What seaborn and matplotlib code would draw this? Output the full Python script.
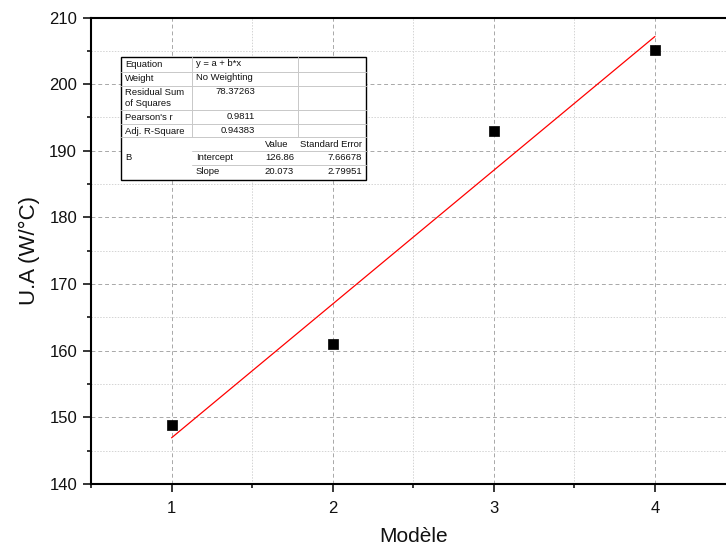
import matplotlib
matplotlib.use("Agg")
import matplotlib.pyplot as plt
from matplotlib.patches import Rectangle
from matplotlib.lines import Line2D
from matplotlib.ticker import MultipleLocator
import seaborn as sns
import pandas as pd
import numpy as np

# Measured data
models = [1, 2, 3, 4]
ua_values = [148.8, 161.0, 192.9, 205.1]

# Linear fit results (y = a + b*x)
fit_intercept = 126.86
fit_slope = 20.073
fit_intercept_err = 7.66678
fit_slope_err = 2.79951
residual_ss = 78.37263
pearson_r = 0.9811
adj_r2 = 0.94383

sns.set_theme(style="white")
plt.rcParams["font.family"] = ["Liberation Sans", "DejaVu Sans"]

W, H = 726, 548
fig = plt.figure(figsize=(W / 100, H / 100), dpi=100)
ax_left, ax_top, ax_bottom, ax_right = 91, 17.5, 484, 735.5
ax = fig.add_axes([ax_left / W, (H - ax_bottom) / H,
                   (ax_right - ax_left) / W, (ax_bottom - ax_top) / H])

df = pd.DataFrame({"Modèle": models, "U.A": ua_values})
fit_x = np.array([models[0], models[-1]], dtype=float)
fit_df = pd.DataFrame({"x": fit_x, "y": fit_intercept + fit_slope * fit_x})

sns.lineplot(data=fit_df, x="x", y="y", color="red", linewidth=0.9, ax=ax, zorder=3)
sns.scatterplot(data=df, x="Modèle", y="U.A", marker="s", s=62, color="black",
                edgecolor="black", linewidth=0.5, ax=ax, zorder=4)

ax.set_xlim(0.5, 4.5)
ax.set_ylim(140, 210)
ax.xaxis.set_major_locator(MultipleLocator(1))
ax.xaxis.set_minor_locator(MultipleLocator(0.5))
ax.yaxis.set_major_locator(MultipleLocator(10))
ax.yaxis.set_minor_locator(MultipleLocator(5))

ax.grid(True, which="major", color="#a8a8a8", linestyle=(0, (4, 3)), linewidth=0.7)
ax.grid(True, which="minor", color="#d4d4d4", linestyle=(0, (1.5, 1.5)), linewidth=0.7)
ax.set_axisbelow(True)

for side in ["left", "bottom", "top", "right"]:
    ax.spines[side].set_visible(True)
    ax.spines[side].set_color("black")
    ax.spines[side].set_linewidth(1.5)

ax.tick_params(axis="both", which="major", direction="out", length=6, width=1.1,
               color="black", labelsize=12, labelcolor="#111111", pad=4,
               bottom=True, left=True)
ax.tick_params(axis="both", which="minor", direction="out", length=3, width=1.1,
               color="black", bottom=True, left=True)
ax.tick_params(axis="x", which="major", pad=6)

ax.set_xlabel("Modèle", fontsize=15, labelpad=8, color="#111111")
ax.set_ylabel("U.A (W/°C)", fontsize=16, labelpad=7, color="#111111")

# Fit summary table, laid out in pixel units from the top-left corner
def fx(px):
    return px / W

def fy(py):
    return 1 - py / H

tl, tr, tt, tb = 121, 366, 57, 180
fig.add_artist(Rectangle((fx(tl), fy(tb)), fx(tr) - fx(tl), fy(tt) - fy(tb),
                         transform=fig.transFigure, facecolor="white",
                         edgecolor="black", linewidth=1.0, zorder=10))

col1, col3 = 192, 298
row_lines = [71.5, 86, 110, 124, 137]
inner = "#c8c8c8"

def hline(y, x0, x1):
    fig.add_artist(Line2D([fx(x0), fx(x1)], [fy(y), fy(y)], transform=fig.transFigure,
                          color=inner, linewidth=0.7, zorder=11))

def vline(x, y0, y1):
    fig.add_artist(Line2D([fx(x), fx(x)], [fy(y0), fy(y1)], transform=fig.transFigure,
                          color=inner, linewidth=0.7, zorder=11))

for y in row_lines:
    hline(y, tl, tr)
hline(151, col1, tr)
hline(164.5, col1, tr)
vline(col1, tt, 137)
vline(col3, tt, 137)

fs = 6.8

def txt(x, y, s, ha="left"):
    fig.text(fx(x), fy(y), s, ha=ha, va="center", fontsize=fs, color="#111111", zorder=12)

txt(125, 64.5, "Equation")
txt(196, 64, "y = a + b*x")
txt(125, 78.5, "Weight")
txt(196, 78, "No Weighting")
txt(125, 92.5, "Residual Sum")
txt(125, 103, "of Squares")
txt(255, 92, f"{residual_ss:.5f}", ha="right")
txt(125, 117.5, "Pearson's r")
txt(255, 117, f"{pearson_r:.4f}", ha="right")
txt(125, 131, "Adj. R-Square")
txt(255, 130.5, f"{adj_r2:.5f}", ha="right")
txt(125, 158, "B")
txt(288, 144.5, "Value", ha="right")
txt(362, 144.5, "Standard Error", ha="right")
txt(196, 158, "Intercept")
txt(294, 158, f"{fit_intercept:.2f}", ha="right")
txt(362, 158, f"{fit_intercept_err:.5f}", ha="right")
txt(196, 171.5, "Slope")
txt(294, 171.5, f"{fit_slope:.3f}", ha="right")
txt(362, 171.5, f"{fit_slope_err:.5f}", ha="right")

fig.savefig("out.png", dpi=100)
